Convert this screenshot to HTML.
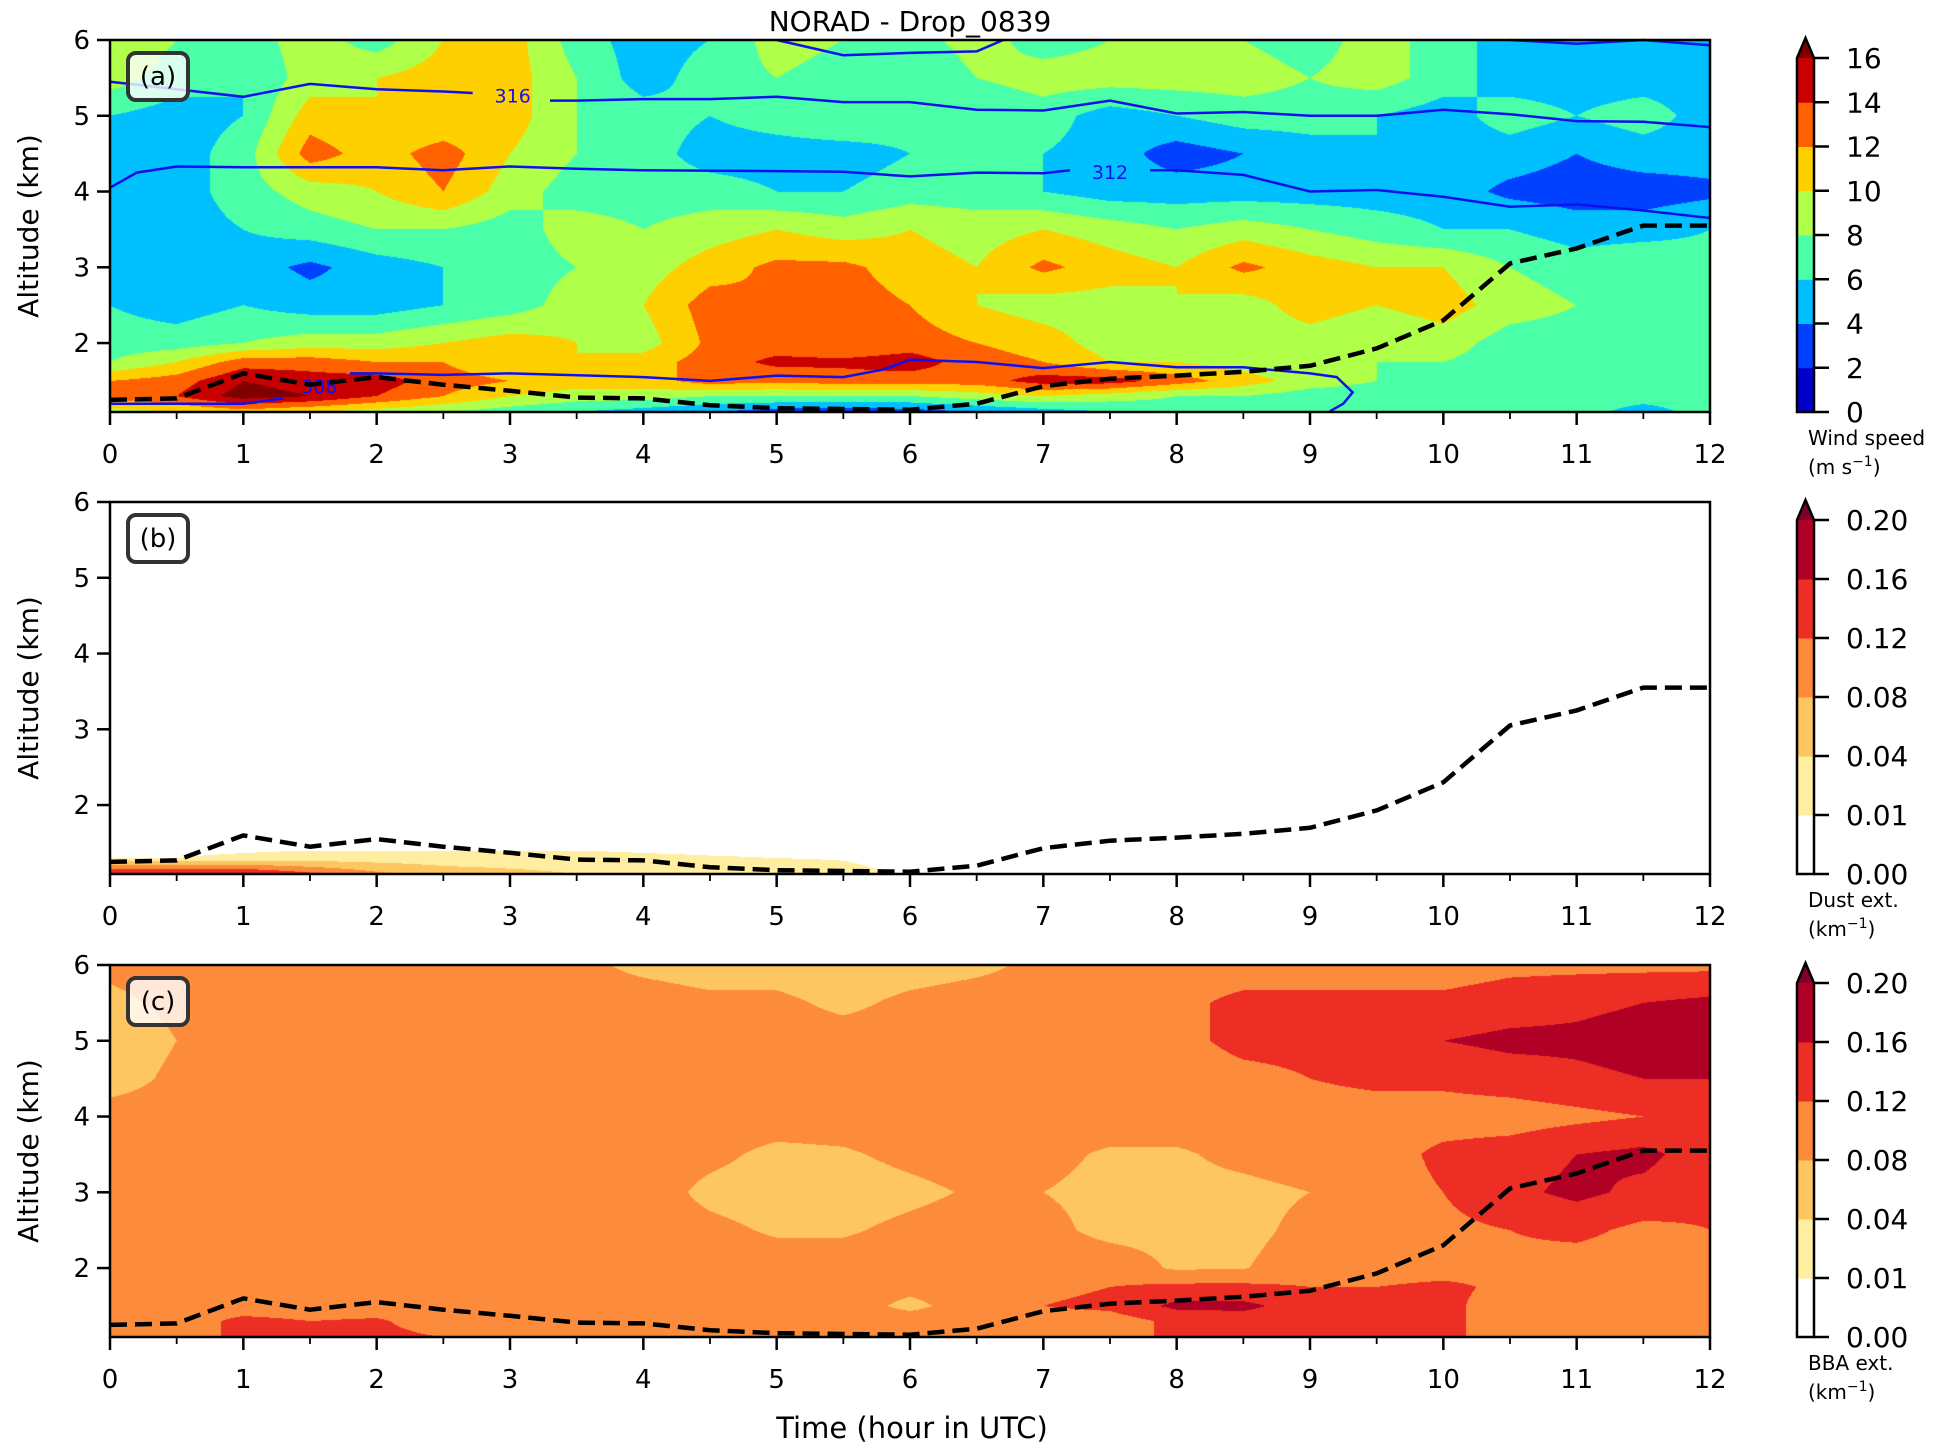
<!DOCTYPE html>
<html><head><meta charset="utf-8"><style>
html,body{margin:0;padding:0;background:#fff;}
#wrap{position:relative;width:1946px;height:1450px;overflow:hidden;font-family:"DejaVu Sans","Liberation Sans",sans-serif;}
canvas{position:absolute;}
svg{position:absolute;left:0;top:0;}
</style></head><body>
<div id="wrap">
<canvas id="ca" width="1600" height="372" style="left:110px;top:40px"></canvas>
<canvas id="cb" width="1600" height="372" style="left:110px;top:502px"></canvas>
<canvas id="cc" width="1600" height="372" style="left:110px;top:965px"></canvas>
<svg id="sv" width="1946" height="1450"></svg>
</div>
<script>
// ---- data ----
const times = [0,0.5,1,1.5,2,2.5,3,3.5,4,4.5,5,5.5,6,6.5,7,7.5,8,8.5,9,9.5,10,10.5,11,11.5,12];
const alts = [1.09,1.3,1.5,1.75,2.0,2.5,3.0,3.5,4.0,4.5,5.0,5.5,6.0];
const wind = [
[9,10,11,10,9,8,7,6,5,4,3,2.5,3,4,5,6,7,7,7,7,7,7,7,5,7],
[13,14,17,16,14,12,10,9,9,8,8,8,8,9,10,9,8,8,7,7,7,7,7,7,7],
[12,13,16,15,15,13,12,11,11,13,12.5,13,13,13,15,15,13,11,9,8,7,7,7,7,7],
[8,10,13,13,12,12,10,10,11,13,14.5,14.5,15,13,12,10,10,9,8,8,8,7,7,7,7],
[7,7,8,9,9,10,11,10,9,12.5,13,12,13,12,11,9,10,9,9,8,9,7,7,7,7],
[6,5,6,5,5,6,7,9,10,13,12,13,12,10,9,9,10,9,11,10,11,9,8,7,7],
[5,5,5,3.5,5,6,7,8,9,11,12.5,12.5,11,10,12.5,11,10,12.5,11,10,10,8,7,8,7],
[6,5,6,7,8,8,7,9,8,9,10,9,10,9,10,9,8,9,8,7,6,6,5,5,6],
[5,5,7,9,10,12,9,7,7,7,6,6,7,7,6,5,5,5,5,5,5,3.5,3,3,3.5],
[5,5,7,13,11,13,10,8,7,5,5,5,6,7,6,5,3,4,5,6,5,5,4,5,5],
[6,5,6,11,10,10,11,8,7,6,7,8,7,6,7,5,6,7,7,6,5,7,6,7,5],
[9,7,6,9,10,11,11,8,5,7,8,7,6,8,9,9,9,9,8,9,7,5,5,5,5],
[10,8,7,9,7,10,11,7,5,6,9,8,7,9,7,8,9,8,7,9,7,5,5,5,5]
];
const dust = [
[0.17,0.17,0.17,0.13,0.09,0.06,0.05,0.04,0.04,0.03,0.03,0.02,0.005,0,0,0,0,0,0,0,0,0,0,0,0],
[0.007,0.01,0.015,0.02,0.02,0.02,0.02,0.02,0.015,0.012,0.01,0.008,0,0,0,0,0,0,0,0,0,0,0,0,0],
[0,0,0,0,0,0,0,0,0,0,0,0,0,0,0,0,0,0,0,0,0,0,0,0,0],
[0,0,0,0,0,0,0,0,0,0,0,0,0,0,0,0,0,0,0,0,0,0,0,0,0],
[0,0,0,0,0,0,0,0,0,0,0,0,0,0,0,0,0,0,0,0,0,0,0,0,0],
[0,0,0,0,0,0,0,0,0,0,0,0,0,0,0,0,0,0,0,0,0,0,0,0,0],
[0,0,0,0,0,0,0,0,0,0,0,0,0,0,0,0,0,0,0,0,0,0,0,0,0],
[0,0,0,0,0,0,0,0,0,0,0,0,0,0,0,0,0,0,0,0,0,0,0,0,0],
[0,0,0,0,0,0,0,0,0,0,0,0,0,0,0,0,0,0,0,0,0,0,0,0,0],
[0,0,0,0,0,0,0,0,0,0,0,0,0,0,0,0,0,0,0,0,0,0,0,0,0],
[0,0,0,0,0,0,0,0,0,0,0,0,0,0,0,0,0,0,0,0,0,0,0,0,0],
[0,0,0,0,0,0,0,0,0,0,0,0,0,0,0,0,0,0,0,0,0,0,0,0,0],
[0,0,0,0,0,0,0,0,0,0,0,0,0,0,0,0,0,0,0,0,0,0,0,0,0]
];
const bba = [
[0.1,0.1,0.13,0.13,0.13,0.12,0.1,0.1,0.1,0.1,0.1,0.1,0.1,0.1,0.1,0.1,0.13,0.13,0.13,0.13,0.13,0.1,0.1,0.1,0.1],
[0.1,0.1,0.13,0.12,0.125,0.1,0.1,0.1,0.1,0.1,0.1,0.1,0.1,0.1,0.1,0.1,0.13,0.14,0.13,0.13,0.13,0.1,0.1,0.1,0.1],
[0.1,0.1,0.1,0.1,0.1,0.1,0.1,0.1,0.1,0.1,0.1,0.1,0.07,0.1,0.12,0.13,0.17,0.17,0.14,0.13,0.13,0.1,0.1,0.1,0.1],
[0.1,0.1,0.1,0.1,0.1,0.1,0.1,0.1,0.1,0.1,0.1,0.1,0.09,0.1,0.11,0.12,0.13,0.13,0.12,0.12,0.13,0.11,0.1,0.1,0.1],
[0.1,0.1,0.1,0.1,0.1,0.1,0.1,0.1,0.1,0.1,0.1,0.1,0.1,0.1,0.1,0.1,0.075,0.078,0.1,0.1,0.1,0.11,0.1,0.1,0.1],
[0.1,0.1,0.1,0.1,0.1,0.1,0.1,0.1,0.1,0.09,0.075,0.075,0.09,0.1,0.09,0.07,0.07,0.07,0.09,0.1,0.11,0.12,0.13,0.11,0.12],
[0.1,0.1,0.1,0.1,0.1,0.1,0.1,0.1,0.1,0.07,0.06,0.06,0.07,0.085,0.08,0.07,0.07,0.07,0.08,0.1,0.12,0.15,0.17,0.15,0.13],
[0.1,0.1,0.1,0.1,0.1,0.1,0.1,0.1,0.1,0.09,0.07,0.075,0.09,0.1,0.09,0.075,0.075,0.09,0.1,0.1,0.13,0.14,0.16,0.17,0.14],
[0.1,0.1,0.1,0.1,0.1,0.1,0.1,0.1,0.1,0.1,0.1,0.1,0.1,0.1,0.1,0.1,0.1,0.1,0.1,0.1,0.1,0.1,0.11,0.12,0.13],
[0.06,0.09,0.1,0.1,0.1,0.1,0.1,0.1,0.1,0.1,0.1,0.1,0.1,0.1,0.1,0.1,0.1,0.11,0.12,0.13,0.13,0.14,0.15,0.16,0.16],
[0.05,0.08,0.1,0.1,0.1,0.1,0.1,0.1,0.1,0.1,0.1,0.1,0.1,0.1,0.1,0.1,0.11,0.13,0.13,0.14,0.16,0.17,0.17,0.18,0.18],
[0.07,0.09,0.1,0.1,0.1,0.1,0.1,0.1,0.1,0.09,0.09,0.07,0.09,0.1,0.1,0.1,0.11,0.13,0.13,0.13,0.13,0.14,0.15,0.16,0.17],
[0.09,0.1,0.1,0.1,0.1,0.1,0.1,0.09,0.07,0.06,0.06,0.05,0.06,0.07,0.09,0.09,0.1,0.1,0.1,0.1,0.1,0.11,0.11,0.11,0.11]
];
const blh = [1.25,1.27,1.6,1.45,1.55,1.45,1.37,1.28,1.27,1.18,1.14,1.13,1.12,1.2,1.43,1.53,1.57,1.62,1.7,1.93,2.3,3.05,3.25,3.55,3.55];
const th316t = [0,0.5,1,1.5,2,2.5,2.72];
const th316z = [5.45,5.35,5.25,5.42,5.35,5.32,5.3];
const th316bt = [3.3,3.5,4,4.5,5,5.5,6,6.5,7,7.5,8,8.5,9,9.5,10,10.5,11,11.5,12];
const th316bz = [5.2,5.2,5.22,5.22,5.25,5.18,5.18,5.08,5.07,5.2,5.03,5.05,5.0,5.0,5.08,5.02,4.93,4.92,4.85];
const th312t = [0,0.2,0.5,1,1.5,2,2.5,3,3.5,4,5,5.5,6,6.5,7,7.2];
const th312z = [4.05,4.25,4.33,4.32,4.32,4.32,4.28,4.33,4.3,4.28,4.27,4.26,4.2,4.25,4.24,4.28];
const th312bt = [7.8,8,8.5,9,9.5,10,10.5,11,11.5,12];
const th312bz = [4.28,4.28,4.22,4.0,4.02,3.93,3.8,3.83,3.75,3.65];
const thTopAt = [5,5.5,6,6.5,6.7];
const thTopAz = [6.0,5.8,5.83,5.85,6.0];
const thTopBt = [10.5,11,11.5,12];
const thTopBz = [6.0,5.95,6.0,5.93];
const th308t = [0,1,1.3];
const th308z = [1.2,1.2,1.27];
const th308bt = [1.8,2,2.5,3,4,4.5,5,5.5,5.8,6,6.5,7,7.5,8,8.5,9,9.2,9.32,9.25,9.15];
const th308bz = [1.6,1.6,1.58,1.6,1.55,1.5,1.57,1.55,1.65,1.78,1.75,1.67,1.75,1.68,1.68,1.6,1.55,1.35,1.2,1.1];
const windLevels = [0,2,4,6,8,10,12,14,16];
const windColors = ['#0000c8','#0040ff','#00c0ff','#4affa8','#b0ff48','#ffd000','#ff6000','#c80000','#800000'];
const extLevels = [0,0.01,0.04,0.08,0.12,0.16,0.2];
const extLabels = ['0.00','0.01','0.04','0.08','0.12','0.16','0.20'];
const extColors = ['#ffffff','#ffeda0','#fec661','#fd8b3c','#ec2e24','#b10026','#800026'];
const xTicks = [0,1,2,3,4,5,6,7,8,9,10,11,12];
const yTicks = [2,3,4,5,6];

// ---- axes ----
const X0=110, X1=1710, ZMIN=1.09, ZMAX=6, PH=372;
const panelTops = [40,502,965];
function xS(t){return X0+(t-0)/12*(X1-X0);}
function yS(z,top){return top+(ZMAX-z)/(ZMAX-ZMIN)*PH;}

function hex(c){return [parseInt(c.slice(1,3),16),parseInt(c.slice(3,5),16),parseInt(c.slice(5,7),16)];}
function sample(grid,t,z){
  let fi=t/0.5; let i=Math.min(Math.floor(fi),times.length-2); let ft=fi-i;
  let j=0; while(j<alts.length-2 && z>alts[j+1]) j++;
  let fz=(z-alts[j])/(alts[j+1]-alts[j]); fz=Math.max(0,Math.min(1,fz));
  const a=grid[j][i],b=grid[j][i+1],c=grid[j+1][i],d=grid[j+1][i+1];
  return (a*(1-ft)+b*ft)*(1-fz)+(c*(1-ft)+d*ft)*fz;
}
function drawField(id,grid,levels,colors){
  const cv=document.getElementById(id),ctx=cv.getContext('2d');
  const img=ctx.createImageData(cv.width,cv.height);
  const rgb=colors.map(hex);
  for(let py=0;py<cv.height;py++){
    const z=ZMAX-(py+0.5)/PH*(ZMAX-ZMIN);
    for(let px=0;px<cv.width;px++){
      const t=(px+0.5)/cv.width*12;
      const v=sample(grid,t,z);
      let k=0; while(k<levels.length-1 && v>=levels[k+1]) k++;
      const c=rgb[k]; const o=(py*cv.width+px)*4;
      img.data[o]=c[0];img.data[o+1]=c[1];img.data[o+2]=c[2];img.data[o+3]=255;
    }
  }
  ctx.putImageData(img,0,0);
}
drawField('ca',wind,windLevels,windColors);
drawField('cb',dust,extLevels,extColors);
drawField('cc',bba,extLevels,extColors);

const NS='http://www.w3.org/2000/svg';
const sv=document.getElementById('sv');
function el(tag,attrs,parent){const e=document.createElementNS(NS,tag);for(const k in attrs)e.setAttribute(k,attrs[k]);(parent||sv).appendChild(e);return e;}
function txt(s,attrs,parent){const e=el('text',attrs,parent);e.textContent=s;return e;}
function poly(ts,zs,top){return ts.map((t,i)=>xS(t).toFixed(1)+','+yS(zs[i],top).toFixed(1)).join(' ');}

const panelNames=['a','b','c'];
panelTops.forEach((top,pi)=>{
  const g=el('g',{});
  
  
  if(pi===0){
    const pairs=[[th316t,th316z],[th316bt,th316bz],[th312t,th312z],[th312bt,th312bz],[thTopAt,thTopAz],[thTopBt,thTopBz],[th308t,th308z],[th308bt,th308bz]];
    pairs.forEach(p=>{
      const l=el('polyline',{points:poly(p[0],p[1],top),fill:'none',stroke:'#1010ee','stroke-width':2.5},g);
      
      
    });
    const lbls=[['316',3.02,5.27],['312',7.5,4.26],['308',1.57,1.43]];
    lbls.forEach(L=>{
      const t=txt(L[0],{x:xS(L[1]),y:yS(L[2],top)+7,'text-anchor':'middle','font-size':19,fill:'#1010ee'},g);
      
      
    });
  }
  const d=el('polyline',{points:poly(times,blh,top),fill:'none',stroke:'#000','stroke-width':4.5,'stroke-dasharray':'17 8'},g);
  
  
  const fr=el('rect',{x:X0,y:top,width:X1-X0,height:PH,fill:'none',stroke:'#000','stroke-width':2.5},g);
  
  
  times.forEach(t=>{
    const major=Number.isInteger(t);
    el('line',{x1:xS(t),x2:xS(t),y1:top+PH,y2:top+PH+(major?13:7),stroke:'#000','stroke-width':major?2.5:1.8},g);
  });
  xTicks.forEach(t=>{
    const e=txt(String(t),{x:xS(t),y:top+PH+51,'text-anchor':'middle','font-size':26},g);
    
    
  });
  yTicks.forEach(z=>{
    el('line',{x1:X0-13,x2:X0,y1:yS(z,top),y2:yS(z,top),stroke:'#000','stroke-width':2.5},g);
    const e=txt(String(z),{x:X0-20,y:yS(z,top)+9,'text-anchor':'end','font-size':26},g);
    
    
  });
  const yl=txt('Altitude (km)',{x:0,y:0,'text-anchor':'middle','font-size':28,transform:`translate(38,${top+PH/2}) rotate(-90)`},g);
  
  
  const bx=el('rect',{x:128,y:top+13,width:60,height:47,rx:8,fill:'#ffffff','fill-opacity':0.8,stroke:'#333','stroke-width':4},g);
  
  
  const pl=txt('('+panelNames[pi]+')',{x:158,y:top+45,'text-anchor':'middle','font-size':26},g);
  
  
  const cbTop=top+18, cbBot=top+PH, cx=1797, cw=17;
  const levels=pi===0?windLevels:extLevels, colors=pi===0?windColors:extColors;
  const n=levels.length-1, h=(cbBot-cbTop)/n;
  const cb=el('g',{},g);
  
  
  for(let k=0;k<n;k++) el('rect',{x:cx,y:cbBot-(k+1)*h,width:cw,height:h+0.5,fill:colors[k]},cb);
  el('polygon',{points:`${cx},${cbTop} ${cx+cw},${cbTop} ${cx+cw/2},${top-2}`,fill:colors[n]},cb);
  el('polygon',{points:`${cx},${cbBot} ${cx},${cbTop} ${cx+cw/2},${top-2} ${cx+cw},${cbTop} ${cx+cw},${cbBot}`,fill:'none',stroke:'#000','stroke-width':2.5},cb);
  for(let k=0;k<=n;k++){
    const yy=cbBot-k*h;
    el('line',{x1:cx+cw,x2:cx+cw+15,y1:yy,y2:yy,stroke:'#000','stroke-width':2.5},cb);
    txt(pi===0?String(levels[k]):extLabels[k],{x:1846,y:yy+10,'font-size':28},cb);
  }
  const cl1=pi===0?'Wind speed':(pi===1?'Dust ext.':'BBA ext.');
  const cl2=pi===0?'(m s':'(km';
  const t1=txt(cl1,{x:1808,y:top+PH+33,'font-size':20},cb);
  
  
  const t2=txt(cl2,{x:1808,y:top+PH+62,'font-size':20},cb);
  const s1=el('tspan',{dy:-8,'font-size':14},t2); s1.textContent='\u22121';
  const s2=el('tspan',{dy:8},t2); s2.textContent=')';
});
const ti=txt('NORAD - Drop_0839',{x:910,y:31,'text-anchor':'middle','font-size':28});


const xl=txt('Time (hour in UTC)',{x:912,y:1438,'text-anchor':'middle','font-size':29});


</script>
</body></html>
